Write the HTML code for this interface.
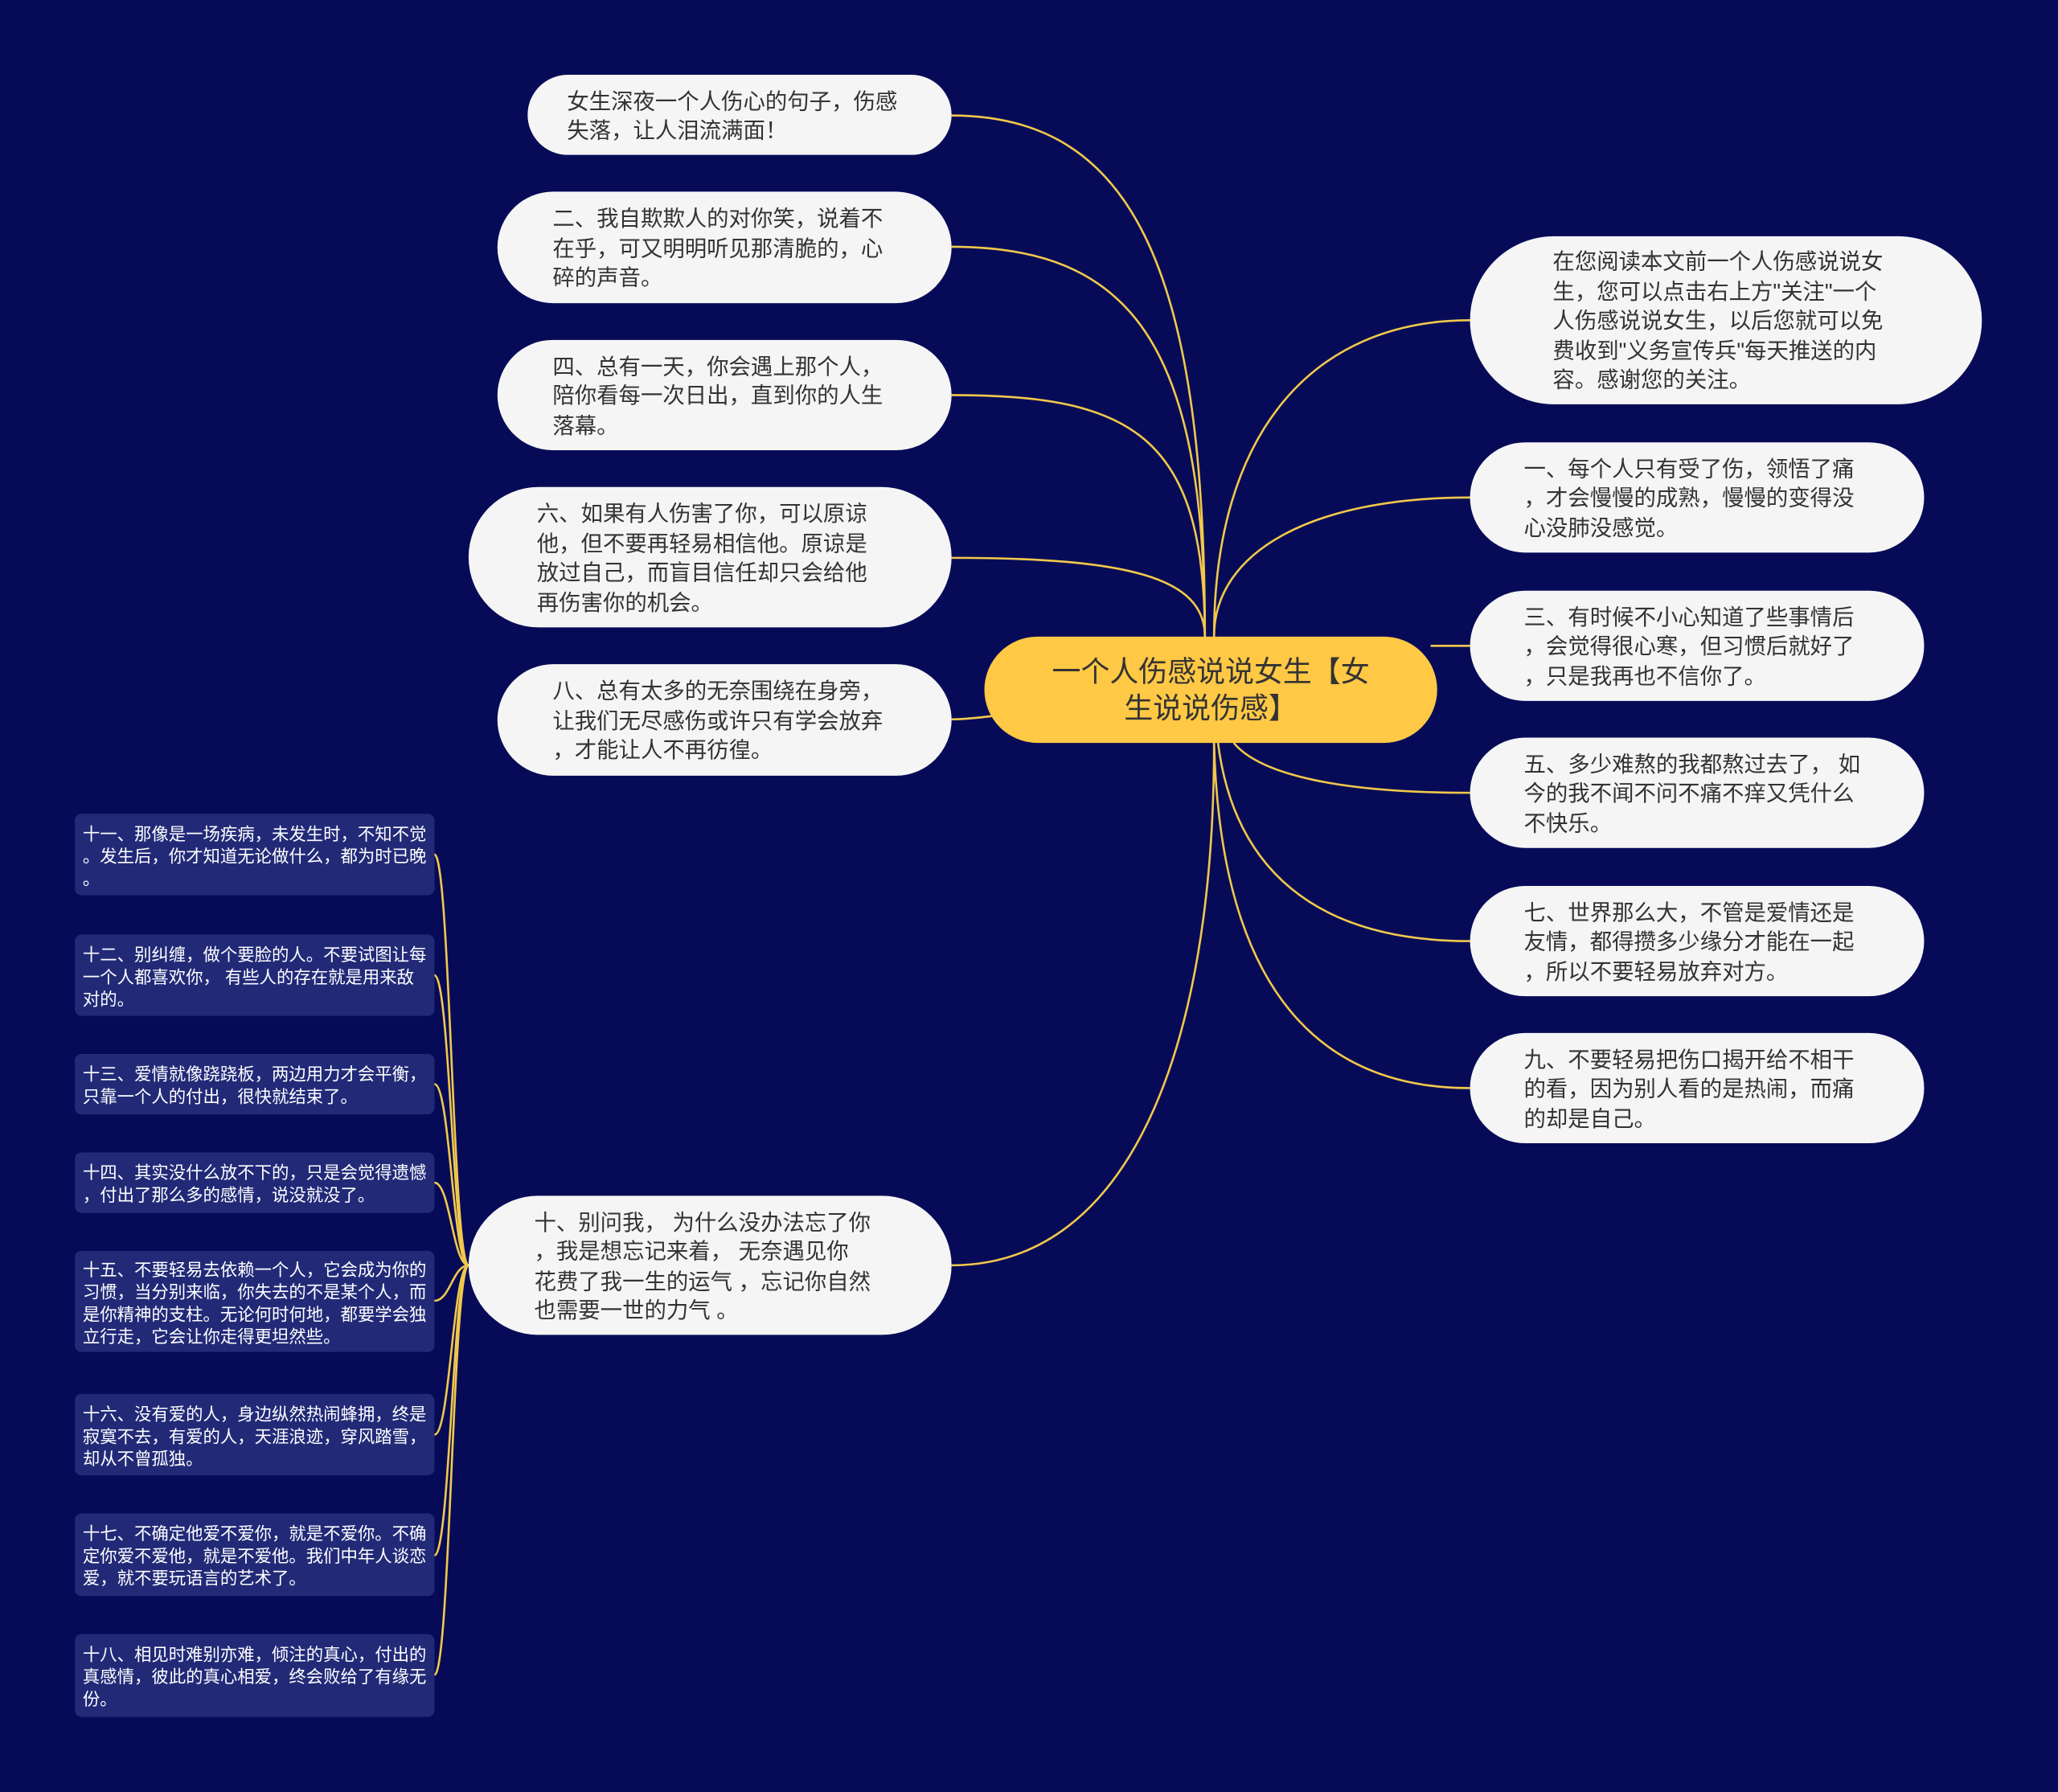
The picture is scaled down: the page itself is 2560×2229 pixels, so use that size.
<!DOCTYPE html>
<html><head><meta charset="utf-8">
<style>
html,body{margin:0;padding:0;background:#070b57;}
body{width:2560px;height:2229px;overflow:hidden;position:relative;}
#s{position:absolute;left:0;top:0;width:1568px;height:1365px;transform:scale(1.63265);transform-origin:0 0;font-family:"Liberation Sans","Noto Sans CJK SC",sans-serif;}
.n{position:absolute;background:#f5f5f5;border-radius:44px;color:#333;font-size:16.8px;line-height:22.5px;box-sizing:border-box;display:flex;align-items:center;padding-top:3px;}
.n div{white-space:nowrap;}
.b{position:absolute;left:57px;width:274px;background:#222a78;border-radius:5px;color:#fff;font-size:13.1px;line-height:17px;box-sizing:border-box;padding:8px 6px 6px;display:flex;align-items:center;white-space:nowrap;}
#c{position:absolute;left:750px;top:485px;width:345px;height:81px;background:#ffc845;border-radius:41px;font-size:22px;line-height:28px;color:#333;text-align:center;display:flex;align-items:center;justify-content:center;}
svg{position:absolute;left:0;top:0;}
</style></head><body><div id="s">
<svg width="1568" height="1365" fill="none" stroke="#f2c84b" stroke-width="1.6">
<path d="M918 485 C 918 200, 860 88, 725 88"/>
<path d="M918 485 C 918 260, 860 188, 725 188"/>
<path d="M918 485 C 918 330, 860 301, 725 301"/>
<path d="M918 485 C 918 440, 860 425, 725 425"/>
<path d="M760 545 C 745 547, 735 548, 725 548"/>
<path d="M925 566 C 925 800, 860 964, 725 964"/>
<path d="M925 485 C 925 330, 1000 244, 1120 244"/>
<path d="M925 485 C 925 420, 1000 379, 1120 379"/>
<path d="M1090 492 C 1100 492, 1110 492, 1120 492"/>
<path d="M940 566 C 960 590, 1020 604, 1120 604"/>
<path d="M928 566 C 940 660, 1000 717, 1120 717"/>
<path d="M925 566 C 930 760, 1010 829, 1120 829"/>
<path d="M357 964 C 345 964, 343 651, 331 651"/>
<path d="M357 964 C 345 964, 343 743, 331 743"/>
<path d="M357 964 C 345 964, 343 826, 331 826"/>
<path d="M357 964 C 345 964, 343 901, 331 901"/>
<path d="M357 964 C 345 964, 343 991, 331 991"/>
<path d="M357 964 C 345 964, 343 1093, 331 1093"/>
<path d="M357 964 C 345 964, 343 1185, 331 1185"/>
<path d="M357 964 C 345 964, 343 1276, 331 1276"/>
</svg>
<div id="c"><div>一个人伤感说说女生【女<br>生说说伤感】</div></div>

<div class="n" style="left:402px;top:57px;width:323px;height:61px;padding-left:30px"><div>女生深夜一个人伤心的句子，伤感<br>失落，让人泪流满面！</div></div>
<div class="n" style="left:379px;top:146px;width:346px;height:85px;padding-left:42px"><div>二、我自欺欺人的对你笑，说着不<br>在乎，可又明明听见那清脆的，心<br>碎的声音。</div></div>
<div class="n" style="left:379px;top:259px;width:346px;height:84px;padding-left:42px"><div>四、总有一天，你会遇上那个人，<br>陪你看每一次日出，直到你的人生<br>落幕。</div></div>
<div class="n" style="left:357px;top:371px;width:368px;height:107px;padding-left:52px;border-radius:54px"><div>六、如果有人伤害了你，可以原谅<br>他，但不要再轻易相信他。原谅是<br>放过自己，而盲目信任却只会给他<br>再伤害你的机会。</div></div>
<div class="n" style="left:379px;top:506px;width:346px;height:85px;padding-left:42px"><div>八、总有太多的无奈围绕在身旁，<br>让我们无尽感伤或许只有学会放弃<br>，才能让人不再彷徨。</div></div>
<div class="n" style="left:357px;top:911px;width:368px;height:106px;padding-left:50px;border-radius:54px"><div>十、别问我， 为什么没办法忘了你<br>，我是想忘记来着， 无奈遇见你<br>花费了我一生的运气 ，忘记你自然<br>也需要一世的力气 。</div></div>

<div class="n" style="left:1120px;top:180px;width:390px;height:128px;padding-left:63px;border-radius:64px"><div>在您阅读本文前一个人伤感说说女<br>生，您可以点击右上方"关注"一个<br>人伤感说说女生，以后您就可以免<br>费收到"义务宣传兵"每天推送的内<br>容。感谢您的关注。</div></div>
<div class="n" style="left:1120px;top:337px;width:346px;height:84px;padding-left:41px"><div>一、每个人只有受了伤，领悟了痛<br>，才会慢慢的成熟，慢慢的变得没<br>心没肺没感觉。</div></div>
<div class="n" style="left:1120px;top:450px;width:346px;height:84px;padding-left:41px"><div>三、有时候不小心知道了些事情后<br>，会觉得很心寒，但习惯后就好了<br>，只是我再也不信你了。</div></div>
<div class="n" style="left:1120px;top:562px;width:346px;height:84px;padding-left:41px"><div>五、多少难熬的我都熬过去了， 如<br>今的我不闻不问不痛不痒又凭什么<br>不快乐。</div></div>
<div class="n" style="left:1120px;top:675px;width:346px;height:84px;padding-left:41px"><div>七、世界那么大，不管是爱情还是<br>友情，都得攒多少缘分才能在一起<br>，所以不要轻易放弃对方。</div></div>
<div class="n" style="left:1120px;top:787px;width:346px;height:84px;padding-left:41px"><div>九、不要轻易把伤口揭开给不相干<br>的看，因为别人看的是热闹，而痛<br>的却是自己。</div></div>

<div class="b" style="top:620px;height:62px">十一、那像是一场疾病，未发生时，不知不觉<br>。发生后，你才知道无论做什么，都为时已晚<br>。</div>
<div class="b" style="top:712px;height:62px">十二、别纠缠，做个要脸的人。不要试图让每<br>一个人都喜欢你， 有些人的存在就是用来敌<br>对的。</div>
<div class="b" style="top:803px;height:46px">十三、爱情就像跷跷板，两边用力才会平衡，<br>只靠一个人的付出，很快就结束了。</div>
<div class="b" style="top:878px;height:46px">十四、其实没什么放不下的，只是会觉得遗憾<br>，付出了那么多的感情，说没就没了。</div>
<div class="b" style="top:953px;height:77px">十五、不要轻易去依赖一个人，它会成为你的<br>习惯，当分别来临，你失去的不是某个人，而<br>是你精神的支柱。无论何时何地，都要学会独<br>立行走，它会让你走得更坦然些。</div>
<div class="b" style="top:1062px;height:62px">十六、没有爱的人，身边纵然热闹蜂拥，终是<br>寂寞不去，有爱的人，天涯浪迹，穿风踏雪，<br>却从不曾孤独。</div>
<div class="b" style="top:1153px;height:63px">十七、不确定他爱不爱你，就是不爱你。不确<br>定你爱不爱他，就是不爱他。我们中年人谈恋<br>爱，就不要玩语言的艺术了。</div>
<div class="b" style="top:1245px;height:63px">十八、相见时难别亦难，倾注的真心，付出的<br>真感情，彼此的真心相爱，终会败给了有缘无<br>份。</div>
</div></body></html>
